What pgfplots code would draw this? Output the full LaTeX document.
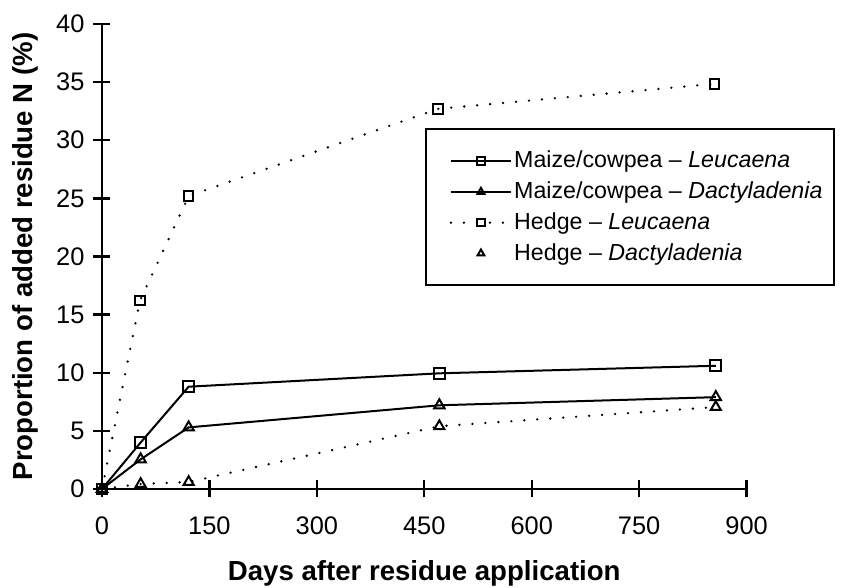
\documentclass[border=0pt]{standalone}
\usepackage{fontspec}
\setmainfont{Liberation Sans}
\usepackage{pgfplots}
\pgfplotsset{compat=1.18}

% Hedge series use a dotted stroke
\tikzset{hedgedot/.style={line width=1.3pt, line cap=round, dash pattern=on 0pt off 6.5pt}}
\newcommand{\tickfont}{\fontsize{12.7}{15}\selectfont}

\begin{document}
\begin{tikzpicture}
  \begin{axis}[
    scale only axis,
    width=322.3pt,
    height=232.5pt,
    xmin=0, xmax=900,
    ymin=0, ymax=40,
    axis lines*=left,
    axis line style={line width=1.3pt},
    xtick={0,150,...,900},
    ytick={0,5,...,40},
    tick align=center,
    major tick length=8.5pt,
    tick style={line width=1.2pt, black},
    xticklabel={\tickfont\pgfmathprintnumber[assume math mode=true]{\tick}},
    yticklabel={\tickfont\pgfmathprintnumber[assume math mode=true]{\tick}},
    xticklabel style={yshift=-6pt},
    yticklabel style={xshift=-1pt},
    xlabel={Days after residue application},
    ylabel={Proportion of added residue N (\%)},
    label style={font=\fontsize{13.8}{16}\selectfont\bfseries},
    xlabel style={yshift=-6pt},
    ylabel style={yshift=2pt},
    clip=false,
    every axis plot/.append style={black, line width=1pt},
    mark options={solid, line width=1pt, fill=white},
    legend style={
      at={(0.501,0.776)}, anchor=north west,
      draw=black, line width=1pt,
      font=\fontsize{11.6}{14}\selectfont,
      inner xsep=5pt, inner ysep=10pt,
      row sep=3.5pt,
      nodes={inner sep=1pt},
    },
    legend cell align=left,
  ]

    \addplot[solid, mark=square, mark size=2.7pt,
      legend image code/.code={
        \path[draw=none] (-7.5pt,0pt) -- (30pt,0pt);
        \draw[solid, line width=1pt] (0pt,0pt) -- (30pt,0pt);
        \draw[solid, line width=1pt, mark size=1.8pt] plot[mark=square] coordinates {(15pt,0pt)};
      }] coordinates {
      (0,0) (54,4.0) (121,8.8) (471,9.95) (857,10.6)
    };
    \addlegendentry{Maize/cowpea -- \textit{Leucaena}}

    \addplot[solid, mark=triangle, mark size=3pt,
      legend image code/.code={
        \path[draw=none] (-7.5pt,0pt) -- (30pt,0pt);
        \draw[solid, line width=1pt] (0pt,0pt) -- (30pt,0pt);
        \draw[solid, line width=1pt, mark size=2pt] plot[mark=triangle] coordinates {(15pt,0pt)};
      }] coordinates {
      (0,0) (54,2.55) (121,5.3) (471,7.2) (857,7.9)
    };
    \addlegendentry{Maize/cowpea -- \textit{Dactyladenia}}

    \addplot[hedgedot, mark=square, mark size=2.4pt,
      legend image code/.code={
        \path[draw=none] (-7.5pt,0pt) -- (30pt,0pt);
        \draw[hedgedot] (0pt,0pt) -- (30pt,0pt);
        \draw[solid, line width=1pt, fill=white, mark size=1.8pt] plot[mark=square] coordinates {(15pt,0pt)};
      }] coordinates {
      (0,0) (53,16.2) (121,25.2) (469,32.7) (855,34.85)
    };
    \addlegendentry{Hedge -- \textit{Leucaena}}

    \addplot[hedgedot, mark=triangle, mark size=2.9pt,
      legend image code/.code={
        \path[draw=none] (-7.5pt,0pt) -- (30pt,0pt);
        \draw[solid, line width=1pt, mark size=2pt] plot[mark=triangle] coordinates {(15pt,0pt)};
      }] coordinates {
      (0,0) (54,0.43) (121,0.6) (471,5.4) (857,7.05)
    };
    \addlegendentry{Hedge -- \textit{Dactyladenia}}

  \end{axis}
  \pgfresetboundingbox
  \path (-51pt,-49.5pt) rectangle (370.5pt,244.5pt);
\end{tikzpicture}
\end{document}
